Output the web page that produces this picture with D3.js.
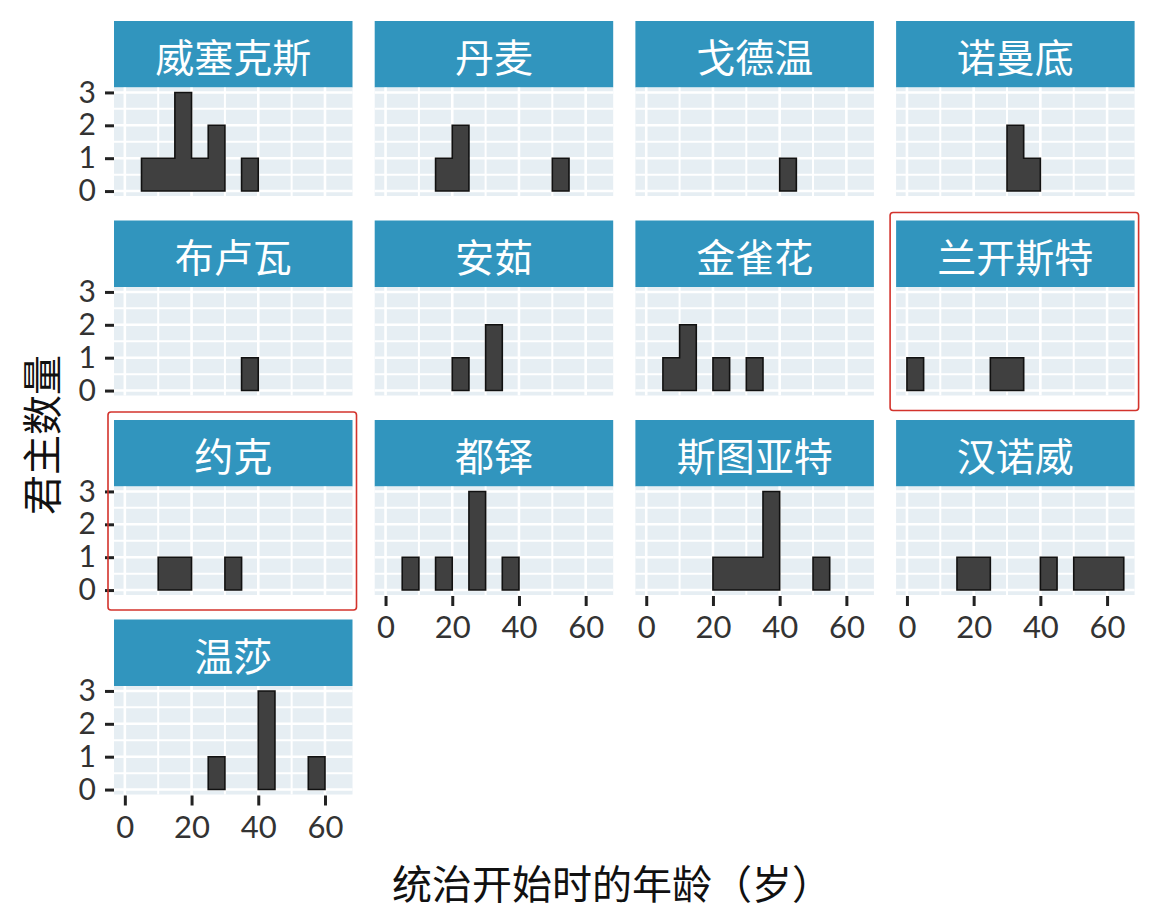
<!DOCTYPE html>
<html>
<head>
<meta charset="utf-8">
<script src="https://cdnjs.cloudflare.com/ajax/libs/d3/7.8.5/d3.min.js"></script>
<style>
  html, body { margin: 0; padding: 0; background: #fff; }
  svg { display: block; }
</style>
</head>
<body>
<svg id="chart" width="1152" height="923"></svg>
<script>
// dynasties in facet order (4 per row)
const dynasties = ["威塞克斯", "丹麦", "戈德温", "诺曼底",
                   "布卢瓦", "安茹", "金雀花", "兰开斯特",
                   "约克", "都铎", "斯图亚特", "汉诺威", "温莎"];

// histogram bins, width 5 years, starting ages
const binWidth = 5;
const binStarts = [0, 5, 10, 15, 20, 25, 30, 35, 40, 45, 50, 55, 60];

// monarch counts per bin, one row per dynasty
const counts = [
  [0, 1, 1, 3, 1, 2, 0, 1, 0, 0, 0, 0, 0], // 威塞克斯
  [0, 0, 0, 1, 2, 0, 0, 0, 0, 0, 1, 0, 0], // 丹麦
  [0, 0, 0, 0, 0, 0, 0, 0, 1, 0, 0, 0, 0], // 戈德温
  [0, 0, 0, 0, 0, 0, 2, 1, 0, 0, 0, 0, 0], // 诺曼底
  [0, 0, 0, 0, 0, 0, 0, 1, 0, 0, 0, 0, 0], // 布卢瓦
  [0, 0, 0, 0, 1, 0, 2, 0, 0, 0, 0, 0, 0], // 安茹
  [0, 1, 2, 0, 1, 0, 1, 0, 0, 0, 0, 0, 0], // 金雀花
  [1, 0, 0, 0, 0, 1, 1, 0, 0, 0, 0, 0, 0], // 兰开斯特
  [0, 0, 1, 1, 0, 0, 1, 0, 0, 0, 0, 0, 0], // 约克
  [0, 1, 0, 1, 0, 3, 0, 1, 0, 0, 0, 0, 0], // 都铎
  [0, 0, 0, 0, 1, 1, 1, 3, 0, 0, 1, 0, 0], // 斯图亚特
  [0, 0, 0, 1, 1, 0, 0, 0, 1, 0, 1, 1, 1], // 汉诺威
  [0, 0, 0, 0, 0, 1, 0, 0, 3, 0, 0, 1, 0]  // 温莎
];

const xTicks = [0, 20, 40, 60];
const xMinor = [10, 30, 50];
const yTicks = [0, 1, 2, 3];
const yMinor = [0.5, 1.5, 2.5];

// facets with a red highlight box
const highlighted = ["兰开斯特", "约克"];

const xTitle = "统治开始时的年龄（岁）";
const yTitle = "君主数量";

// layout
const nCols = 4;
const panelLeft0 = 114, colStep = 260.7, panelW = 238.5;
const rowTop0 = 21, rowStep = 199.5, stripH = 66.5, panelH = 108.5;

const cjk = "'Noto Sans CJK SC', 'Noto Sans', sans-serif";
const tickFont = "Lato, 'DejaVu Sans', sans-serif";

const svg = d3.select("#chart");

// shared scales (ggplot style 5% expansion)
const xMax = d3.max(binStarts) + binWidth;
const xPad = xMax * 0.05;
const x = d3.scaleLinear().domain([-xPad, xMax + xPad]).range([0, panelW]);
const yMax = 3;
const yPad = yMax * 0.05;
const y = d3.scaleLinear().domain([-yPad, yMax + yPad]).range([panelH, 0]);

// step outline for a run of adjacent bins
const histArea = d3.area()
  .x(d => x(d.x))
  .y0(y(0))
  .y1(d => y(d.n));

// split non-empty bins into runs of touching bins
function runsOf(row) {
  const runs = [];
  let cur = null;
  row.forEach((n, k) => {
    if (n > 0) {
      if (!cur) { cur = []; runs.push(cur); }
      cur.push({ x: binStarts[k], n: n }, { x: binStarts[k] + binWidth, n: n });
    } else {
      cur = null;
    }
  });
  return runs;
}

dynasties.forEach((name, i) => {
  const col = i % nCols;
  const row = Math.floor(i / nCols);
  const left = panelLeft0 + col * colStep;
  const top = rowTop0 + row * rowStep;

  const g = svg.append("g").attr("transform", `translate(${left},${top})`);

  // strip
  g.append("rect")
    .attr("width", panelW).attr("height", stripH)
    .attr("fill", "#3195be");
  g.append("text")
    .attr("x", panelW / 2).attr("y", stripH / 2 + 1)
    .attr("text-anchor", "middle")
    .attr("dominant-baseline", "central")
    .style("font-family", cjk)
    .style("font-size", "39px")
    .attr("fill", "#ffffff")
    .text(name);

  // panel
  const p = g.append("g").attr("transform", `translate(0,${stripH})`);
  p.append("rect")
    .attr("width", panelW).attr("height", panelH)
    .attr("fill", "#e6eef3");

  // grid
  p.selectAll(".vminor").data(xMinor).enter().append("line")
    .attr("x1", d => x(d)).attr("x2", d => x(d))
    .attr("y1", 0).attr("y2", panelH)
    .attr("stroke", "#fff").attr("stroke-width", 2);
  p.selectAll(".hminor").data(yMinor).enter().append("line")
    .attr("y1", d => y(d)).attr("y2", d => y(d))
    .attr("x1", 0).attr("x2", panelW)
    .attr("stroke", "#fff").attr("stroke-width", 2);
  p.selectAll(".vmajor").data(xTicks).enter().append("line")
    .attr("x1", d => x(d)).attr("x2", d => x(d))
    .attr("y1", 0).attr("y2", panelH)
    .attr("stroke", "#fff").attr("stroke-width", 2.6);
  p.selectAll(".hmajor").data(yTicks).enter().append("line")
    .attr("y1", d => y(d)).attr("y2", d => y(d))
    .attr("x1", 0).attr("x2", panelW)
    .attr("stroke", "#fff").attr("stroke-width", 2.6);

  // histogram bars
  p.selectAll("path.bars").data(runsOf(counts[i])).enter().append("path")
    .attr("class", "bars")
    .attr("d", histArea)
    .attr("fill", "#404040")
    .attr("stroke", "#111")
    .attr("stroke-width", 1.6)
    .attr("stroke-linejoin", "miter");

  // y axis on first column
  if (col === 0) {
    const ya = p.append("g")
      .call(d3.axisLeft(y).tickValues(yTicks).tickFormat(d3.format("d"))
        .tickSize(9).tickPadding(9));
    ya.select(".domain").remove();
    ya.selectAll("line").attr("stroke", "#222").attr("stroke-width", 3);
    ya.selectAll("text").style("font-family", tickFont).style("font-size", "30px").attr("fill", "#333");
  }

  // x axis on the lowest panel of each column
  if (i + nCols >= dynasties.length) {
    const xa = p.append("g")
      .attr("transform", `translate(0,${panelH + 1})`)
      .call(d3.axisBottom(x).tickValues(xTicks).tickFormat(d3.format("d"))
        .tickSize(10).tickPadding(10));
    xa.select(".domain").remove();
    xa.selectAll("line").attr("stroke", "#222").attr("stroke-width", 3);
    xa.selectAll("text").style("font-family", tickFont).style("font-size", "31px").attr("fill", "#333");
  }

  // red highlight box
  if (highlighted.includes(name)) {
    svg.append("rect")
      .attr("x", left - 6).attr("y", top - 8)
      .attr("width", panelW + 10).attr("height", stripH + panelH + 23)
      .attr("rx", 3)
      .attr("fill", "none")
      .attr("stroke", "#d3332c").attr("stroke-width", 1.6);
  }
});

// axis titles
svg.append("text")
  .attr("x", 612).attr("y", 882)
  .attr("text-anchor", "middle")
  .attr("dominant-baseline", "central")
  .style("font-family", cjk)
  .style("font-size", "40px")
  .attr("fill", "#111")
  .text(xTitle);

svg.append("text")
  .attr("transform", "translate(40,435) rotate(-90)")
  .attr("text-anchor", "middle")
  .attr("dominant-baseline", "central")
  .style("font-family", cjk)
  .style("font-size", "40px")
  .attr("fill", "#111")
  .text(yTitle);
</script>
</body>
</html>
